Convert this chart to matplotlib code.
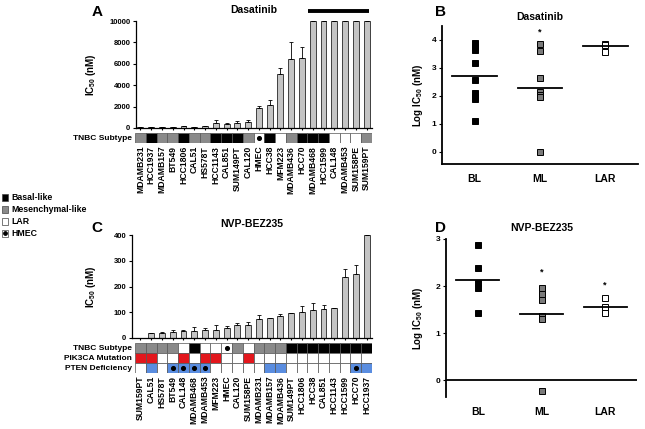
import numpy as np
import matplotlib
matplotlib.use('Agg')
import matplotlib.pyplot as plt
from matplotlib.patches import Rectangle

plt.rcParams['font.family'] = ['Liberation Sans', 'DejaVu Sans']
plt.rcParams['font.weight'] = 'bold'
plt.rcParams['axes.titleweight'] = 'bold'
plt.rcParams['axes.labelweight'] = 'bold'
plt.rcParams['mathtext.fontset'] = 'custom'
plt.rcParams['mathtext.rm'] = 'Liberation Sans:bold'
plt.rcParams['mathtext.default'] = 'rm'

W, H = 645, 429

# panel A - dasatinib IC50 per cell line
dasa_lines = ['MDAMB231', 'HCC1937', 'MDAMB157', 'BT549', 'HCC1806', 'CAL51', 'HS578T',
              'HCC1143', 'CAL851', 'SUM149PT', 'CAL120', 'HMEC', 'HCC38', 'MFM223',
              'MDAMB436', 'HCC70', 'MDAMB468', 'HCC1599', 'CAL148', 'MDAMB453',
              'SUM158PE', 'SUM159PT']
dasa_ic50 = [50, 60, 120, 130, 150, 140, 170, 470, 400, 470, 560, 1840, 2160, 5090,
             6470, 6560, 10000, 10000, 10000, 10000, 10000, 10000]
dasa_err = [0, 0, 0, 0, 0, 0, 0, 310, 60, 150, 160, 250, 500, 530,
            1560, 1030, 0, 0, 0, 0, 0, 0]
dasa_subtype = ['ML', 'BL', 'ML', 'ML', 'BL', 'ML', 'ML', 'BL', 'BL', 'BL', 'ML', 'HMEC',
                'BL', 'LAR', 'ML', 'BL', 'BL', 'BL', 'LAR', 'LAR', 'LAR', 'ML']

# panel C - NVP-BEZ235 IC50 per cell line
bez_lines = ['SUM159PT', 'CAL51', 'HS578T', 'BT549', 'CAL148', 'MDAMB468', 'MDAMB453',
             'MFM223', 'HMEC', 'CAL120', 'SUM158PE', 'MDAMB231', 'MDAMB157', 'MDAMB436',
             'SUM149PT', 'HCC1806', 'HCC38', 'CAL851', 'HCC1143', 'HCC1599', 'HCC70',
             'HCC1937']
bez_ic50 = [1, 19, 21, 24, 26, 26, 33, 33, 39, 52, 52, 74, 78, 86, 96, 101, 109, 111,
            117, 236, 248, 400]
bez_err = [0, 2, 2, 7, 7, 18, 7, 17, 9, 6, 10, 15, 1, 7, 1, 22, 27, 19, 1, 33, 34, 0]
bez_subtype = ['ML', 'ML', 'ML', 'ML', 'LAR', 'BL', 'LAR', 'LAR', 'HMEC', 'ML', 'LAR',
               'ML', 'ML', 'ML', 'BL', 'BL', 'BL', 'BL', 'BL', 'BL', 'BL', 'BL']
bez_pik3ca = [1, 1, 0, 0, 1, 0, 1, 1, 0, 0, 1, 0, 0, 0, 0, 0, 0, 0, 0, 0, 0, 0]
# 0 = none, 1 = PTEN deficient, 2 = PTEN deficient (dot)
bez_pten = [0, 1, 0, 2, 2, 2, 2, 0, 0, 0, 0, 0, 1, 1, 0, 0, 0, 0, 0, 0, 2, 1]

# panels B and D - log IC50 by subtype
groups = ['BL', 'ML', 'LAR']
b_bl = [3.88, 3.75, 3.63, 3.19, 2.57, 2.10, 1.98, 1.88, 1.12]
b_ml = [3.85, 3.62, 2.63, 2.15, 2.02, 1.95, 0.01]
b_lar = [3.86, 3.82, 3.56]
b_means = [2.73, 2.30, 3.79]
b_stars = ['', '*', '']
b_star_y = [0, 4.3, 0]

d_bl = [2.88, 2.38, 2.07, 1.96, 1.43]
d_ml = [1.95, 1.84, 1.70, 1.36, 1.29, -0.23]
d_lar = [1.74, 1.56, 1.43]
d_means = [2.13, 1.41, 1.55]
d_stars = ['', '*', '*']
d_star_y = [0, 2.3, 2.02]

sub_colors = {'BL': '#000000', 'ML': '#8a8a8a', 'LAR': '#ffffff', 'HMEC': '#ffffff'}
red = '#e3161c'
blue = '#5a8de0'
bar_gray = '#c4c4c4'


def box(l, t, r, b):
    return [l / W, 1 - b / H, (r - l) / W, (b - t) / H]


def style_axis(ax):
    for s in ['top', 'right']:
        ax.spines[s].set_visible(False)
    for s in ['left', 'bottom']:
        ax.spines[s].set_linewidth(0.9)
    ax.tick_params(direction='out', length=2.5, width=0.8, labelsize=5.5, pad=1.5)


def bar_panel(ax, vals, err, ymax, yticks, left_pad):
    x = np.arange(len(vals))
    ax.bar(x, vals, width=0.55, color=bar_gray, edgecolor='black', linewidth=0.5)
    ax.errorbar(x, vals, yerr=[np.zeros(len(vals)), err], fmt='none', ecolor='black',
                elinewidth=0.6, capsize=1.5, capthick=0.6)
    ax.set_xlim(left_pad, len(vals) - 0.5)
    ax.set_ylim(0, ymax)
    ax.set_yticks(yticks)
    ax.set_xticks(x)
    ax.set_xticklabels([])
    style_axis(ax)
    ax.tick_params(axis='x', length=1.5)


def strip(ax, rows, lines):
    n = len(lines)
    for r, row in enumerate(rows):
        for i, c in enumerate(row):
            ax.bar(i, 1, width=1, bottom=r, color=c[0], edgecolor='#555555', linewidth=0.5)
            if c[1]:
                ax.scatter(i, r + 0.5, s=7, color='black', zorder=3)
    ax.set_xlim(-0.5, n - 0.5)
    ax.set_ylim(len(rows), 0)
    ax.set_xticks(np.arange(n))
    ax.set_xticklabels(lines, rotation=90, fontsize=6.2)
    ax.tick_params(length=0, pad=2)
    ax.set_yticks([])
    for s in ax.spines.values():
        s.set_visible(False)


def scatter_panel(ax, data, means, stars, star_y):
    fills = ['black', '#7a7a7a', 'white']
    for i, vals in enumerate(data):
        ax.plot([i] * len(vals), vals, 's', ms=4, mfc=fills[i], mec='black', mew=0.7,
                linestyle='none')
        ax.plot([i - 0.34, i + 0.34], [means[i], means[i]], color='black', lw=1.3)
        if stars[i]:
            ax.text(i, star_y[i], stars[i], ha='center', va='center', fontsize=6.5)
    ax.set_xlim(-0.5, 2.5)
    ax.set_xticks(range(3))
    ax.set_xticklabels(groups)
    style_axis(ax)
    ax.spines['left'].set_linewidth(1.3)
    ax.spines['bottom'].set_linewidth(1.3)
    ax.tick_params(axis='x', length=0, pad=7, labelsize=7.5)
    ax.tick_params(axis='y', labelsize=6)


fig = plt.figure(figsize=(6.45, 4.29), dpi=100)

# panel A
axA = fig.add_axes(box(136, 21, 372, 128))
bar_panel(axA, dasa_ic50, dasa_err, 10000, range(0, 10001, 2000), -0.41)
axA.set_title('Dasatinib', fontsize=7.5, pad=6)
axA.set_ylabel('IC$_{50}$ (nM)', fontsize=7)
axA.yaxis.set_label_coords(-0.16, 0.5)
axA.plot([15.55, 21.25], [10900, 10900], color='black', lw=2.8, clip_on=False,
         solid_capstyle='butt')

sA = fig.add_axes(box(135, 133, 372, 143))
strip(sA, [[(sub_colors[s], s == 'HMEC') for s in dasa_subtype]], dasa_lines)

# panel C
axC = fig.add_axes(box(132, 235, 372, 338))
bar_panel(axC, bez_ic50, bez_err, 400, range(0, 401, 100), -0.78)
axC.set_title('NVP-BEZ235', fontsize=7.5, pad=6)
axC.set_ylabel('IC$_{50}$ (nM)', fontsize=7)
axC.yaxis.set_label_coords(-0.14, 0.5)

sC = fig.add_axes(box(135, 343, 372, 373))
rowsC = [[(sub_colors[s], s == 'HMEC') for s in bez_subtype],
         [(red if p else 'white', False) for p in bez_pik3ca],
         [(blue if p else 'white', p == 2) for p in bez_pten]]
strip(sC, rowsC, bez_lines)

# panel B
axB = fig.add_axes(box(442, 26, 638, 164))
scatter_panel(axB, [b_bl, b_ml, b_lar], b_means, b_stars, b_star_y)
axB.set_ylim(-0.43, 4.5)
axB.set_yticks(range(0, 5))
axB.set_title('Dasatinib', fontsize=7.5, pad=4)
axB.set_ylabel('Log IC$_{50}$ (nM)', fontsize=7)
axB.yaxis.set_label_coords(-0.085, 0.5)

# panel D
axD = fig.add_axes(box(446, 239, 637, 397))
scatter_panel(axD, [d_bl, d_ml, d_lar], d_means, d_stars, d_star_y)
axD.set_ylim(-0.36, 3.0)
axD.set_yticks(range(0, 4))
axD.spines['bottom'].set_visible(False)
axD.axhline(0, color='black', lw=1.3)
axD.set_title('NVP-BEZ235', fontsize=7.5, pad=6)
axD.set_ylabel('Log IC$_{50}$ (nM)', fontsize=7)
axD.yaxis.set_label_coords(-0.11, 0.5)

# overlay in pixel coordinates for labels and legend
ov = fig.add_axes([0, 0, 1, 1])
ov.set_xlim(0, W)
ov.set_ylim(H, 0)
ov.axis('off')

for letter, (x, y) in zip('ABCD', [(97, 12), (440, 12), (97, 228), (440, 228)]):
    ov.text(x, y, letter, fontsize=11, ha='center', va='center')

ov.text(132, 138, 'TNBC Subtype', fontsize=6, ha='right', va='center')
for label, y in zip(['TNBC Subtype', 'PIK3CA Mutation', 'PTEN Deficiency'], [348, 358, 368]):
    ov.text(132, y, label, fontsize=6, ha='right', va='center')

legend = [('Basal-like', 'black', False), ('Mesenchymal-like', '#8a8a8a', False),
          ('LAR', 'white', False), ('HMEC', 'white', True)]
for k, (name, col, dot) in enumerate(legend):
    y = 197 + k * 12
    ov.add_patch(Rectangle((1.5, y - 3.5), 6.5, 7, facecolor=col, edgecolor='#444444', lw=0.5))
    if dot:
        ov.scatter(4.75, y, s=6, color='black')
    ov.text(11, y, name, fontsize=6.3, ha='left', va='center')

fig.savefig('out.png', dpi=100)
